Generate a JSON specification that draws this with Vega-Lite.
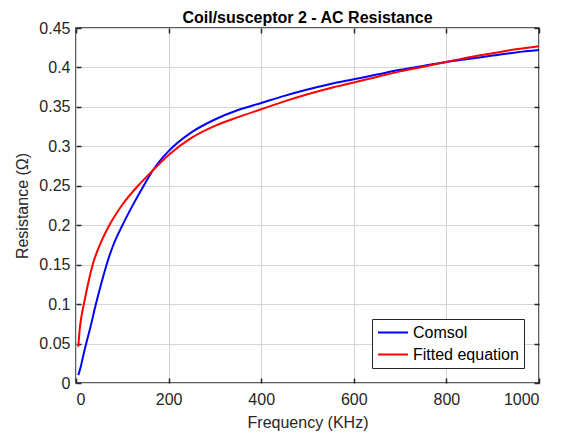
{
  "$schema": "https://vega.github.io/schema/vega-lite/v6.json",
  "width": 463,
  "height": 355,
  "autosize": {"type": "none"},
  "padding": {"left": 76, "top": 28, "right": 26, "bottom": 54},
  "background": "white",
  "title": {"text": "Coil/susceptor 2 - AC Resistance", "fontSize": 16, "fontWeight": "bold", "font": "Liberation Sans", "color": "#000000", "anchor": "middle", "offset": -6},
  "config": {
    "font": "Liberation Sans",
    "view": {"stroke": "#262626", "strokeWidth": 1.5},
    "axis": {
      "domain": false,
      "labelFont": "Liberation Sans",
      "labelFontSize": 16,
      "labelColor": "#262626",
      "titleFont": "Liberation Sans",
      "titleFontSize": 16,
      "titleFontWeight": "normal",
      "titleColor": "#262626",
      "tickColor": "#262626",
      "tickWidth": 1.5,
      "gridColor": "#d5d5d5",
      "gridWidth": 1
    },
    "legend": {
      "labelFont": "Liberation Sans",
      "labelFontSize": 16,
      "labelColor": "#000000",
      "symbolType": "M-1,0H3",
      "symbolSize": 225,
      "symbolStrokeWidth": 2,
      "strokeColor": "#262626",
      "fillColor": "white",
      "padding": 5,
      "rowPadding": 5,
      "labelOffset": 19
    }
  },
  "data": {"values": [
    {"series": "Comsol", "f": 5, "r": 0.010},
    {"series": "Comsol", "f": 10, "r": 0.020},
    {"series": "Comsol", "f": 15, "r": 0.033},
    {"series": "Comsol", "f": 22, "r": 0.050},
    {"series": "Comsol", "f": 30, "r": 0.068},
    {"series": "Comsol", "f": 43, "r": 0.100},
    {"series": "Comsol", "f": 55, "r": 0.127},
    {"series": "Comsol", "f": 66, "r": 0.150},
    {"series": "Comsol", "f": 80, "r": 0.174},
    {"series": "Comsol", "f": 102, "r": 0.202},
    {"series": "Comsol", "f": 125, "r": 0.228},
    {"series": "Comsol", "f": 149, "r": 0.253},
    {"series": "Comsol", "f": 160, "r": 0.264},
    {"series": "Comsol", "f": 175, "r": 0.277},
    {"series": "Comsol", "f": 200, "r": 0.294},
    {"series": "Comsol", "f": 250, "r": 0.318},
    {"series": "Comsol", "f": 300, "r": 0.334},
    {"series": "Comsol", "f": 350, "r": 0.346},
    {"series": "Comsol", "f": 400, "r": 0.355},
    {"series": "Comsol", "f": 450, "r": 0.364},
    {"series": "Comsol", "f": 500, "r": 0.372},
    {"series": "Comsol", "f": 550, "r": 0.379},
    {"series": "Comsol", "f": 600, "r": 0.385},
    {"series": "Comsol", "f": 650, "r": 0.391},
    {"series": "Comsol", "f": 700, "r": 0.397},
    {"series": "Comsol", "f": 750, "r": 0.402},
    {"series": "Comsol", "f": 800, "r": 0.407},
    {"series": "Comsol", "f": 850, "r": 0.411},
    {"series": "Comsol", "f": 900, "r": 0.415},
    {"series": "Comsol", "f": 950, "r": 0.419},
    {"series": "Comsol", "f": 1000, "r": 0.422},
    {"series": "Fitted equation", "f": 5, "r": 0.046},
    {"series": "Fitted equation", "f": 8, "r": 0.068},
    {"series": "Fitted equation", "f": 12, "r": 0.085},
    {"series": "Fitted equation", "f": 17, "r": 0.100},
    {"series": "Fitted equation", "f": 25, "r": 0.123},
    {"series": "Fitted equation", "f": 36, "r": 0.150},
    {"series": "Fitted equation", "f": 50, "r": 0.173},
    {"series": "Fitted equation", "f": 72, "r": 0.200},
    {"series": "Fitted equation", "f": 100, "r": 0.226},
    {"series": "Fitted equation", "f": 134, "r": 0.250},
    {"series": "Fitted equation", "f": 165, "r": 0.269},
    {"series": "Fitted equation", "f": 200, "r": 0.289},
    {"series": "Fitted equation", "f": 250, "r": 0.311},
    {"series": "Fitted equation", "f": 300, "r": 0.326},
    {"series": "Fitted equation", "f": 350, "r": 0.337},
    {"series": "Fitted equation", "f": 400, "r": 0.347},
    {"series": "Fitted equation", "f": 450, "r": 0.357},
    {"series": "Fitted equation", "f": 500, "r": 0.366},
    {"series": "Fitted equation", "f": 550, "r": 0.374},
    {"series": "Fitted equation", "f": 600, "r": 0.381},
    {"series": "Fitted equation", "f": 650, "r": 0.388},
    {"series": "Fitted equation", "f": 700, "r": 0.395},
    {"series": "Fitted equation", "f": 750, "r": 0.401},
    {"series": "Fitted equation", "f": 800, "r": 0.407},
    {"series": "Fitted equation", "f": 850, "r": 0.413},
    {"series": "Fitted equation", "f": 900, "r": 0.418},
    {"series": "Fitted equation", "f": 950, "r": 0.423},
    {"series": "Fitted equation", "f": 1000, "r": 0.427}
  ]},
  "layer": [
    {
      "mark": {"type": "line", "strokeWidth": 2, "opacity": 0},
      "encoding": {
        "x": {"field": "f", "type": "quantitative", "scale": {"domain": [0, 1000], "nice": false},
              "axis": {"orient": "top", "labels": false, "grid": false, "title": null, "values": [0, 200, 400, 600, 800, 1000], "tickSize": -5}},
        "y": {"field": "r", "type": "quantitative", "scale": {"domain": [0, 0.45], "nice": false, "zero": false},
              "axis": {"orient": "right", "labels": false, "grid": false, "title": null, "values": [0, 0.05, 0.1, 0.15, 0.2, 0.25, 0.3, 0.35, 0.4, 0.45], "tickSize": -5}},
        "detail": {"field": "series"}
      }
    },
    {
      "mark": {"type": "line", "strokeWidth": 2, "interpolate": "monotone"},
      "encoding": {
        "x": {"field": "f", "type": "quantitative", "scale": {"domain": [0, 1000], "nice": false},
              "axis": {"orient": "bottom", "title": "Frequency (KHz)", "values": [0, 200, 400, 600, 800, 1000], "format": "d", "tickSize": -5, "labelPadding": 13, "titlePadding": 7, "grid": true}},
        "y": {"field": "r", "type": "quantitative", "scale": {"domain": [0, 0.45], "nice": false, "zero": false},
              "axis": {"orient": "left", "title": "Resistance (Ω)", "values": [0, 0.05, 0.1, 0.15, 0.2, 0.25, 0.3, 0.35, 0.4, 0.45], "format": "~g", "tickSize": -5, "labelPadding": 11, "titlePadding": 8, "grid": true}},
        "color": {"field": "series", "type": "nominal", "scale": {"domain": ["Comsol", "Fitted equation"], "range": ["#0000ff", "#ff0000"]},
                  "legend": {"title": null, "orient": "bottom-right", "offset": 15}}
      }
    }
  ],
  "resolve": {"axis": {"x": "independent", "y": "independent"}}
}
